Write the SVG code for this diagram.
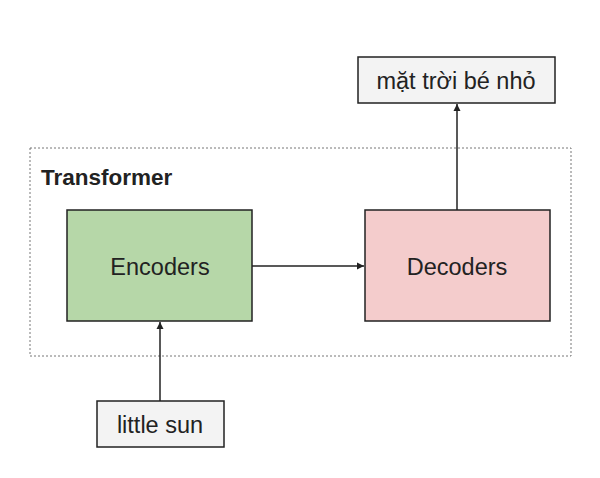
<svg xmlns="http://www.w3.org/2000/svg" width="600" height="478" viewBox="0 0 600 478">
<style>
text{font-family:"Liberation Sans",Arial,sans-serif;fill:#222;text-anchor:middle;dominant-baseline:central;font-size:23.5px}
.b{stroke:#222;stroke-width:1.5}
.c{stroke:#222;stroke-width:1.5;fill:none;marker-end:url(#a)}
</style>
<defs><marker id="a" markerWidth="8" markerHeight="8" refX="7" refY="4" orient="auto" markerUnits="userSpaceOnUse"><path d="M0,0.5L7,4L0,7.5Z" fill="#222"/></marker></defs>
<rect width="600" height="478" fill="#fff"/>
<g id="transformer"><rect x="30" y="148" width="541" height="208" fill="none" stroke="#777" stroke-dasharray="2,2"/><text x="41" y="177" style="text-anchor:start;font-weight:bold;font-size:22.5px">Transformer</text></g>
<g id="encoders"><rect class="b" x="67" y="210" width="185" height="111" fill="#b6d7a8"/><text x="160" y="267">Encoders</text></g>
<g id="decoders"><rect class="b" x="365" y="210" width="185" height="111" fill="#f4cccc"/><text x="457" y="267">Decoders</text></g>
<g id="output"><rect class="b" x="358" y="57" width="197" height="46" fill="#f3f3f3"/><text x="456" y="81">mặt trời bé nhỏ</text></g>
<g id="input"><rect class="b" x="97" y="401" width="127" height="46" fill="#f3f3f3"/><text x="160" y="425">little sun</text></g>
<g id="connectors">
<path class="c" d="M252,266H364"/>
<path class="c" d="M457,210V104"/>
<path class="c" d="M160,401V322"/>
</g>
</svg>
